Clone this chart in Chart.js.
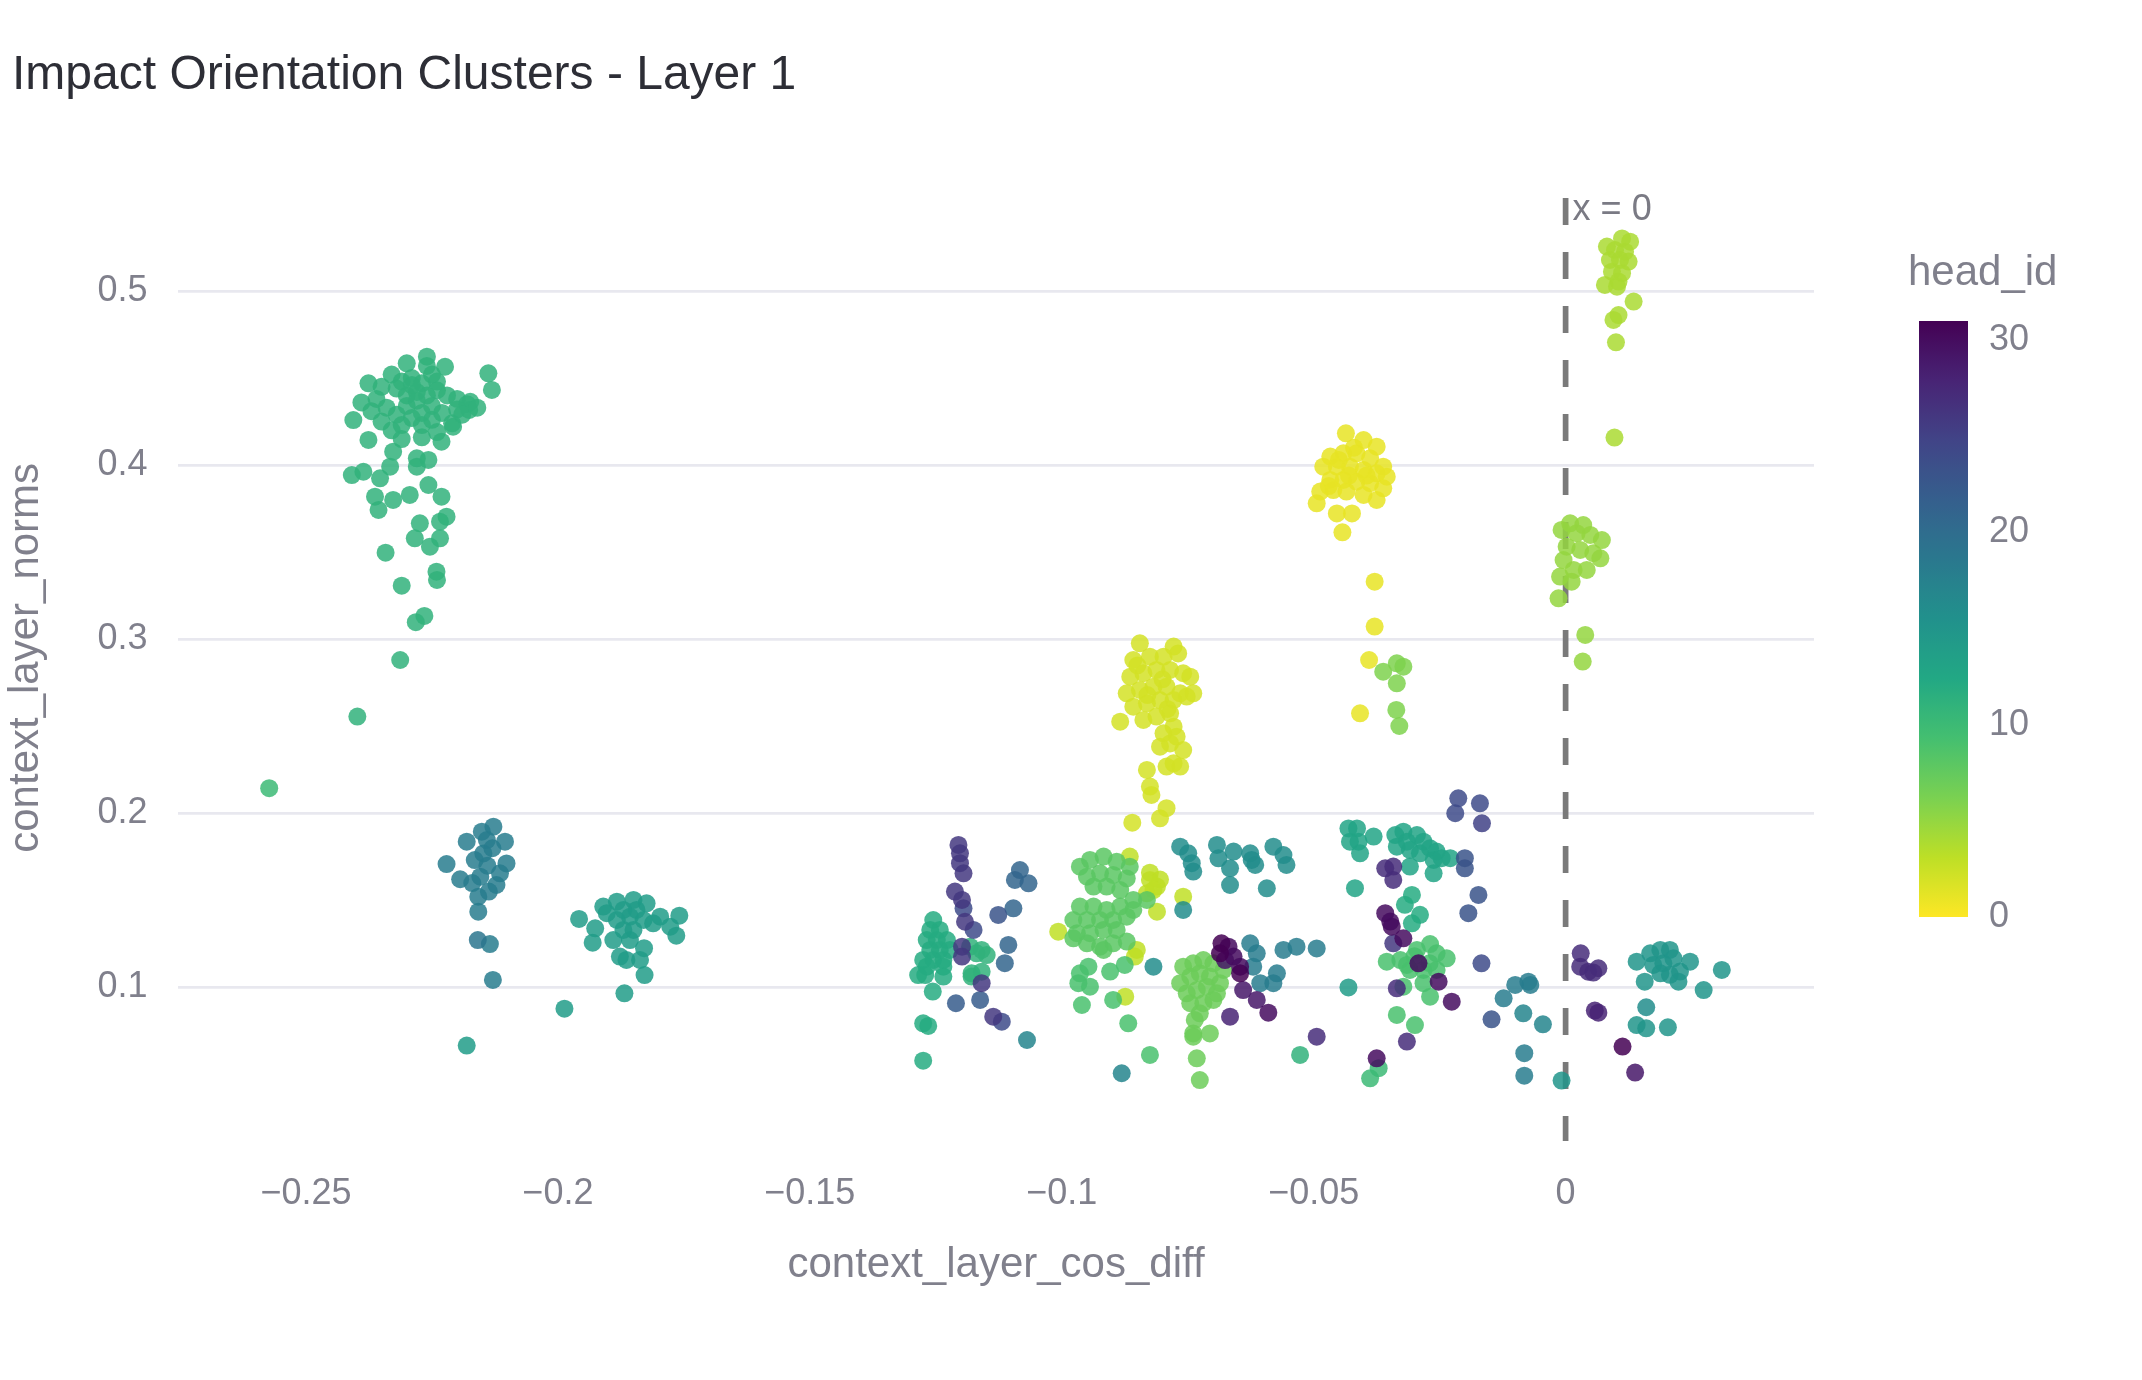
<!DOCTYPE html>
<html><head><meta charset="utf-8">
<script src="https://cdn.jsdelivr.net/npm/chart.js@4.4.1/dist/chart.umd.min.js"></script>
<style>html,body{margin:0;padding:0;background:#fff;}#wrap{width:2142px;height:1380px;}</style>
</head><body><div id="wrap"><canvas id="c" width="2142" height="1380"></canvas></div>
<script>
// ---------- DATA ----------
const chartTitle = 'Impact Orientation Clusters - Layer 1';
const xTitle = 'context_layer_cos_diff';
const yTitle = 'context_layer_norms';
const colorTitle = 'head_id';
const xTicks = [-0.25, -0.2, -0.15, -0.1, -0.05, 0];
const xTickLabels = ['\u22120.25', '\u22120.2', '\u22120.15', '\u22120.1', '\u22120.05', '0'];
const yTicks = [0.1, 0.2, 0.3, 0.4, 0.5];
const yTickLabels = ['0.1', '0.2', '0.3', '0.4', '0.5'];
const cbarTicks = [0, 10, 20, 30];
const headMin = 0, headMax = 31;
const refLineX = 0;
const refLineLabel = 'x = 0';

// points [context_layer_cos_diff, context_layer_norms] grouped by head_id
const head01 = [[-0.0436,0.4183],[-0.0401,0.4144],[-0.0375,0.4106],[-0.0467,0.4049],[-0.0441,0.4068],[-0.0415,0.4068],[-0.0388,0.4039],[-0.0362,0.3991],[-0.0481,0.3991],[-0.0454,0.3991],[-0.0428,0.3991],[-0.0401,0.3972],[-0.0375,0.3953],[-0.0355,0.3934],[-0.0467,0.3915],[-0.0441,0.3915],[-0.0415,0.3905],[-0.0388,0.3896],[-0.0362,0.3867],[-0.0487,0.3848],[-0.0461,0.3857],[-0.0435,0.3848],[-0.0401,0.3829],[-0.0375,0.3800],[-0.0494,0.3781],[-0.0454,0.3723],[-0.0424,0.3723],[-0.0443,0.3614],[-0.0379,0.3331],[-0.0379,0.3073],[-0.0390,0.2881],[-0.0408,0.2575],[-0.0420,0.4100],[-0.0450,0.4030],[-0.0395,0.3940],[-0.0430,0.3940],[-0.0470,0.3880]];
const head02 = [[-0.0845,0.2977],[-0.0778,0.2958],[-0.0858,0.2881],[-0.0825,0.2900],[-0.0798,0.2900],[-0.0769,0.2919],[-0.0864,0.2785],[-0.0838,0.2805],[-0.0812,0.2824],[-0.0785,0.2824],[-0.0759,0.2805],[-0.0745,0.2785],[-0.0739,0.2690],[-0.0871,0.2690],[-0.0845,0.2709],[-0.0818,0.2728],[-0.0792,0.2728],[-0.0765,0.2690],[-0.0858,0.2613],[-0.0831,0.2632],[-0.0805,0.2651],[-0.0778,0.2651],[-0.0752,0.2671],[-0.0838,0.2537],[-0.0812,0.2556],[-0.0785,0.2575],[-0.0884,0.2527],[-0.0798,0.2460],[-0.0778,0.2498],[-0.0772,0.2441],[-0.0805,0.2383],[-0.0785,0.2402],[-0.0759,0.2364],[-0.0778,0.2288],[-0.0765,0.2269],[-0.0792,0.2269],[-0.0831,0.2250],[-0.0825,0.2154],[-0.0822,0.2106],[-0.0792,0.2030],[-0.0805,0.1972],[-0.0860,0.1947],[-0.0850,0.2850],[-0.0800,0.2770],[-0.0830,0.2680],[-0.0790,0.2600]];
const head03 = [[-0.0865,0.1752],[-0.0825,0.1618],[-0.0811,0.1580],[-0.0831,0.1541],[-0.0811,0.1436],[-0.0851,0.1216],[-0.0855,0.1178],[-0.0874,0.0948],[-0.1007,0.1321],[-0.0759,0.1522],[-0.0825,0.1660],[-0.0805,0.1620],[-0.0818,0.1560]];
const head04 = [[0.0112,0.5302],[0.0128,0.5283],[0.0082,0.5255],[0.0098,0.5235],[0.0118,0.5226],[0.0088,0.5178],[0.0108,0.5178],[0.0125,0.5169],[0.0092,0.5111],[0.0112,0.5102],[0.0105,0.5054],[0.0078,0.5035],[0.0102,0.5025],[0.0135,0.4939],[0.0105,0.4862],[0.0095,0.4834],[0.0100,0.4705],[0.0097,0.4158]];
const head05 = [[0.0009,0.3666],[0.0035,0.3656],[-0.0008,0.3628],[0.0022,0.3609],[0.0049,0.3599],[0.0072,0.3570],[0.0002,0.3532],[0.0029,0.3513],[0.0055,0.3494],[0.0069,0.3465],[-0.0004,0.3455],[0.0016,0.3398],[0.0042,0.3398],[-0.0011,0.3360],[0.0012,0.3331],[-0.0014,0.3235],[0.0039,0.3025],[0.0034,0.2872]];
const head06 = [[-0.0362,0.2814],[-0.0335,0.2862],[-0.0322,0.2843],[-0.0335,0.2747],[-0.0336,0.2594],[-0.0330,0.2502]];
const head07 = [[-0.0759,0.1120],[-0.0739,0.1139],[-0.0719,0.1158],[-0.0699,0.1139],[-0.0679,0.1101],[-0.0765,0.1025],[-0.0745,0.1063],[-0.0726,0.1082],[-0.0706,0.1063],[-0.0686,0.1025],[-0.0752,0.0967],[-0.0732,0.0986],[-0.0712,0.1005],[-0.0692,0.0967],[-0.0745,0.0910],[-0.0719,0.0910],[-0.0699,0.0929],[-0.0726,0.0852],[-0.0736,0.0814],[-0.0739,0.0737],[-0.0706,0.0737],[-0.0739,0.0718],[-0.0732,0.0594],[-0.0726,0.0469]];
const head08 = [[-0.0964,0.1694],[-0.0944,0.1733],[-0.0917,0.1752],[-0.0891,0.1723],[-0.0865,0.1694],[-0.0950,0.1637],[-0.0924,0.1656],[-0.0898,0.1647],[-0.0871,0.1627],[-0.0937,0.1580],[-0.0911,0.1580],[-0.0884,0.1560],[-0.0858,0.1503],[-0.0831,0.1503],[-0.0964,0.1465],[-0.0937,0.1465],[-0.0911,0.1446],[-0.0884,0.1465],[-0.0858,0.1446],[-0.0977,0.1388],[-0.0950,0.1388],[-0.0924,0.1388],[-0.0898,0.1388],[-0.0871,0.1407],[-0.0970,0.1312],[-0.0944,0.1312],[-0.0917,0.1331],[-0.0891,0.1331],[-0.0871,0.1264],[-0.0977,0.1283],[-0.0950,0.1254],[-0.0924,0.1235],[-0.0898,0.1254],[-0.0917,0.1216]];
const head09 = [[-0.0964,0.1082],[-0.0947,0.1120],[-0.0967,0.1025],[-0.0944,0.1005],[-0.0960,0.0900],[-0.0904,0.1092],[-0.0875,0.1130],[-0.0898,0.0929],[-0.0868,0.0795],[-0.0825,0.0613],[-0.0269,0.1250],[-0.0295,0.1216],[-0.0256,0.1197],[-0.0236,0.1168],[-0.0355,0.1149],[-0.0328,0.1158],[-0.0309,0.1101],[-0.0282,0.1101],[-0.0256,0.1101],[-0.0322,0.1005],[-0.0282,0.1025],[-0.0269,0.0948],[-0.0335,0.0843],[-0.0299,0.0785],[-0.0300,0.1180],[-0.0270,0.1140],[-0.0315,0.1130]];
const head10 = [[-0.0388,0.0479],[-0.0371,0.0537],[-0.2573,0.2145]];
const head11 = [[-0.2260,0.4623],[-0.2300,0.4585],[-0.2224,0.4565],[-0.2138,0.4527],[-0.2131,0.4432],[-0.2376,0.4470],[-0.2406,0.4259],[-0.2174,0.4364],[-0.2176,0.4317],[-0.2208,0.4221],[-0.2231,0.4135],[-0.2376,0.4145],[-0.2327,0.4077],[-0.2280,0.4039],[-0.2257,0.4030],[-0.2280,0.3991],[-0.2409,0.3943],[-0.2386,0.3962],[-0.2353,0.3924],[-0.2333,0.3991],[-0.2257,0.3886],[-0.2363,0.3819],[-0.2356,0.3743],[-0.2327,0.3800],[-0.2294,0.3829],[-0.2231,0.3819],[-0.2274,0.3666],[-0.2234,0.3675],[-0.2221,0.3704],[-0.2284,0.3580],[-0.2234,0.3580],[-0.2254,0.3532],[-0.2342,0.3497],[-0.2241,0.3388],[-0.2240,0.3341],[-0.2310,0.3308],[-0.2265,0.3134],[-0.2282,0.3098],[-0.2313,0.2881],[-0.2398,0.2556],
[-0.2330,0.4520],[-0.2310,0.4480],[-0.2290,0.4500],[-0.2270,0.4470],[-0.2250,0.4520],[-0.2280,0.4420],[-0.2300,0.4400],[-0.2320,0.4440],[-0.2350,0.4450],[-0.2360,0.4380],[-0.2340,0.4330],[-0.2320,0.4290],[-0.2300,0.4340],[-0.2280,0.4370],[-0.2260,0.4400],[-0.2240,0.4430],[-0.2220,0.4400],[-0.2200,0.4380],[-0.2180,0.4350],[-0.2200,0.4320],[-0.2230,0.4300],[-0.2250,0.4260],[-0.2270,0.4230],[-0.2290,0.4270],[-0.2310,0.4230],[-0.2330,0.4200],[-0.2350,0.4250],[-0.2370,0.4310],[-0.2390,0.4360],[-0.2310,0.4150],[-0.2270,0.4160],[-0.2240,0.4190],[-0.2210,0.4240],[-0.2190,0.4290],[-0.2160,0.4330],[-0.2250,0.4340],[-0.2270,0.4300],[-0.2290,0.4460],[-0.2260,0.4570],[-0.2240,0.4480],
[-0.1182,0.1235],[-0.1169,0.1197],[-0.1149,0.1187],[-0.1159,0.1216],[-0.1179,0.1082],[-0.1159,0.1091],[-0.1179,0.1063],[-0.0527,0.0613]];
const head12 = [[-0.1255,0.1388],[-0.1261,0.1331],[-0.1242,0.1331],[-0.1268,0.1273],[-0.1248,0.1273],[-0.1228,0.1273],[-0.1261,0.1216],[-0.1242,0.1216],[-0.1222,0.1216],[-0.1275,0.1159],[-0.1255,0.1159],[-0.1235,0.1159],[-0.1268,0.1120],[-0.1235,0.1120],[-0.1285,0.1072],[-0.1271,0.1072],[-0.1256,0.0977],[-0.1235,0.1063],[-0.1275,0.0795],[-0.1265,0.0780],[-0.1275,0.0580],[-0.0305,0.1532],[-0.0319,0.1475],[-0.0289,0.1418],[-0.0305,0.1369]];
const head13 = [[-0.0431,0.1914],[-0.0414,0.1914],[-0.0381,0.1867],[-0.0428,0.1838],[-0.0411,0.1838],[-0.0408,0.1771],[-0.0418,0.1571],[-0.0338,0.1876],[-0.0322,0.1895],[-0.0295,0.1876],[-0.0335,0.1809],[-0.0315,0.1838],[-0.0309,0.1790],[-0.0282,0.1838],[-0.0289,0.1771],[-0.0269,0.1800],[-0.0256,0.1781],[-0.0262,0.1733],[-0.0246,0.1743],[-0.0229,0.1743],[-0.0262,0.1656],[-0.0309,0.1695]];
const head14 = [[-0.1926,0.1340],[-0.1931,0.1258],[-0.1910,0.1465],[-0.1883,0.1493],[-0.1850,0.1503],[-0.1824,0.1484],[-0.1797,0.1407],[-0.1759,0.1413],[-0.1765,0.1298],[-0.1777,0.1350],[-0.1883,0.1388],[-0.1857,0.1407],[-0.1830,0.1388],[-0.1890,0.1273],[-0.1857,0.1273],[-0.1864,0.1159],[-0.1877,0.1178],[-0.1837,0.1159],[-0.1829,0.1226],[-0.1828,0.1072],[-0.1868,0.0967],[-0.1811,0.1369],[-0.1903,0.1427],[-0.1844,0.1446],[-0.1870,0.1446],[-0.1850,0.1331],[-0.1870,0.1331],[-0.1958,0.1394],[-0.1987,0.0879],[-0.2181,0.0667],[-0.0431,0.1001]];
const head15 = [[0.0141,0.1149],[0.0168,0.1197],[0.0188,0.1216],[0.0207,0.1216],[0.0174,0.1130],[0.0194,0.1139],[0.0214,0.1168],[0.0188,0.1082],[0.0207,0.1073],[0.0227,0.1092],[0.0247,0.1149],[0.0224,0.1034],[0.0157,0.1034],[0.0310,0.1101],[0.0274,0.0986],[0.0141,0.0785],[0.0160,0.0766],[0.0203,0.0772],[-0.0008,0.0466]];
const head16 = [[-0.0765,0.1809],[-0.0749,0.1771],[-0.0742,0.1714],[-0.0739,0.1666],[-0.0692,0.1819],[-0.0659,0.1781],[-0.0666,0.1685],[-0.0666,0.1589],[-0.0626,0.1771],[-0.0616,0.1704],[-0.0593,0.1570],[-0.0580,0.1809],[-0.0560,0.1761],[-0.0554,0.1704],[-0.0759,0.1446],[-0.0818,0.1120],[-0.0689,0.1742],[-0.0623,0.1733],[0.0160,0.0887]];
const head17 = [[-0.1069,0.0699],[-0.0881,0.0508],[-0.0084,0.0852],[-0.0045,0.0789]];
const head18 = [[-0.2128,0.1924],[-0.2151,0.1895],[-0.2181,0.1838],[-0.2105,0.1838],[-0.2141,0.1847],[-0.2221,0.1709],[-0.2102,0.1713],[-0.2165,0.1732],[-0.2148,0.1770],[-0.2115,0.1656],[-0.2194,0.1622],[-0.2154,0.1637],[-0.2122,0.1589],[-0.2158,0.1522],[-0.2158,0.1436],[-0.2137,0.1551],[-0.2135,0.1250],[-0.2129,0.1044],[-0.2140,0.1700],[-0.2170,0.1600],[-0.2130,0.1800],[-0.0626,0.1254],[-0.0613,0.1197],[-0.0620,0.1120],[-0.0606,0.1025],[-0.0580,0.1025],[-0.0573,0.1082],[-0.0560,0.1216],[-0.0534,0.1235],[-0.0494,0.1225],[-0.0123,0.0938],[-0.0100,0.1015],[-0.0074,0.1034],[-0.0070,0.1015],[-0.0082,0.0623],[-0.0082,0.0494]];
const head19 = [[-0.2159,0.1273]];
const head21 = [[-0.1083,0.1675],[-0.1093,0.1618],[-0.1066,0.1599],[-0.1096,0.1455],[-0.1106,0.1245],[-0.1113,0.1140]];
const head22 = [[-0.1162,0.0929],[-0.1210,0.0910]];
const head23 = [[-0.1126,0.1417],[-0.0200,0.1743],[-0.0200,0.1685],[-0.0173,0.1532],[-0.0193,0.1427],[-0.0147,0.0818]];
const head24 = [[-0.1195,0.1455],[-0.1175,0.1331],[-0.1119,0.0804],[-0.0213,0.2087],[-0.0170,0.2058],[-0.0219,0.2001],[-0.0167,0.1139]];
const head25 = [[-0.0166,0.1943]];
const head26 = [[-0.1205,0.1819],[-0.1202,0.1771],[-0.1202,0.1714],[-0.1195,0.1656],[-0.1212,0.1551],[-0.1198,0.1503],[-0.1192,0.1378],[-0.1198,0.1235],[-0.1198,0.1178],[-0.1159,0.1025],[-0.1136,0.0833],[-0.0342,0.1254]];
const head27 = [[-0.0358,0.1685],[-0.0342,0.1695],[-0.0342,0.1618],[-0.0335,0.0996],[-0.0315,0.0690],[0.0030,0.1197],[0.0029,0.1120],[0.0045,0.1091],[0.0065,0.1111],[0.0055,0.1086],[-0.0494,0.0718]];
const head28 = [[-0.0666,0.0833],[0.0058,0.0868],[0.0065,0.0856]];
const head29 = [[-0.0676,0.1158],[-0.0640,0.0986],[-0.0613,0.0929],[0.0138,0.0512]];
const head30 = [[-0.0669,0.1235],[-0.0659,0.1178],[-0.0646,0.1120],[-0.0590,0.0856],[-0.0358,0.1427],[-0.0348,0.1379],[-0.0345,0.1350],[-0.0322,0.1283],[-0.0292,0.1139],[-0.0252,0.1034],[-0.0226,0.0919],[-0.0375,0.0594]];
const head31 = [[-0.0683,0.1254],[-0.0686,0.1197],[-0.0646,0.1082],[0.0113,0.0661]];

const headGroups = [[1,head01],[2,head02],[3,head03],[4,head04],[5,head05],[6,head06],[7,head07],[8,head08],[9,head09],[10,head10],[11,head11],[12,head12],[13,head13],[14,head14],[15,head15],[16,head16],[17,head17],[18,head18],[19,head19],[21,head21],[22,head22],[23,head23],[24,head24],[25,head25],[26,head26],[27,head27],[28,head28],[29,head29],[30,head30],[31,head31]];

// ---------- STYLE ----------
const FONT = "'Liberation Sans', Arial, Helvetica, sans-serif";
const TXT_GRAY = '#80808c';
const TITLE_COL = '#2d2e36';
const VIR = ['#440154','#482475','#414487','#355f8d','#2a788e','#21918c','#22a884','#44bf70','#7ad151','#bddf26','#fde725'];
function hexRgb(h){return [parseInt(h.slice(1,3),16),parseInt(h.slice(3,5),16),parseInt(h.slice(5,7),16)];}
function viridis(t){t=Math.min(1,Math.max(0,t));const p=t*10;const i=Math.min(9,Math.floor(p));const f=p-i;const a=hexRgb(VIR[i]),b=hexRgb(VIR[i+1]);return a.map((v,k)=>Math.round(v+(b[k]-v)*f));}
function headColor(h,alpha){const c=viridis(1-(h-headMin)/(headMax-headMin));return 'rgba('+c[0]+','+c[1]+','+c[2]+','+alpha+')';}

const points=[], colors=[];
headGroups.forEach(([h,arr])=>arr.forEach(([x,y])=>{points.push({x:x,y:y,head:h});colors.push(headColor(h,0.85));}));

const refLinePlugin = {
  id:'refLine',
  beforeDatasetsDraw(chart){
    const {ctx, chartArea, scales} = chart;
    const px = scales.x.getPixelForValue(refLineX);
    ctx.save();
    ctx.strokeStyle='#7a7a7a'; ctx.lineWidth=5.7; ctx.setLineDash([27,27]);
    ctx.beginPath(); ctx.moveTo(px, chartArea.top); ctx.lineTo(px, chartArea.bottom); ctx.stroke();
    ctx.restore();
  },
  afterDraw(chart){
    const {ctx, chartArea, scales} = chart;
    const px = scales.x.getPixelForValue(refLineX);
    ctx.save();
    ctx.font = '36px '+FONT; ctx.fillStyle='#7a7a84'; ctx.textAlign='left'; ctx.textBaseline='middle';
    ctx.fillText(refLineLabel, px+7, chartArea.top+12);
    ctx.restore();
  }
};

const colorbarPlugin = {
  id:'colorbar',
  afterDraw(chart){
    const ctx = chart.ctx;
    const x0=1919, w=49, yTop=321, yBot=917;
    ctx.save();
    const g = ctx.createLinearGradient(0,yBot,0,yTop);
    for(let i=0;i<=20;i++){const c=viridis(1-i/20);g.addColorStop(i/20,'rgb('+c[0]+','+c[1]+','+c[2]+')');}
    ctx.fillStyle=g; ctx.fillRect(x0,yTop,w,yBot-yTop);
    ctx.fillStyle=TXT_GRAY; ctx.font='36px '+FONT; ctx.textAlign='left'; ctx.textBaseline='middle';
    cbarTicks.forEach(v=>{const y=yBot-(v-headMin)/(headMax-headMin)*(yBot-yTop);ctx.fillText(String(v),1989,y);});
    ctx.font='42px '+FONT; ctx.fillText(colorTitle,1908,273);
    ctx.restore();
  }
};

new Chart(document.getElementById('c'), {
  type:'scatter',
  data:{datasets:[{label:'heads', data:points, pointRadius:9, pointHoverRadius:9, pointBorderWidth:0, pointBackgroundColor:colors, pointBorderColor:colors}]},
  options:{
    responsive:false, devicePixelRatio:1, animation:false,
    layout:{padding:{left:12,right:328,top:0,bottom:0}},
    plugins:{
      legend:{display:false}, tooltip:{enabled:false},
      title:{display:true, text:chartTitle, align:'start', color:TITLE_COL, font:{family:FONT,size:48,weight:'normal',lineHeight:1.2}, padding:{top:47,bottom:93.4}}
    },
    scales:{
      x:{type:'linear', min:-0.2754, max:0.0493,
        afterBuildTicks:(s)=>{s.ticks=xTicks.map(v=>({value:v}));},
        afterFit:(s)=>{s.height=239;},
        grid:{display:false, drawTicks:false}, border:{display:false},
        ticks:{autoSkip:false, maxRotation:0, padding:31.4, color:TXT_GRAY, font:{family:FONT,size:36}, callback:(v,i)=>xTickLabels[i]},
        title:{display:true, text:xTitle, color:TXT_GRAY, font:{family:FONT,size:42,lineHeight:1.2}, padding:{top:0,bottom:89.8}}
      },
      y:{type:'linear', min:0.0119, max:0.5534,
        afterBuildTicks:(s)=>{s.ticks=yTicks.map(v=>({value:v}));},
        afterFit:(s)=>{s.width=166;},
        grid:{color:'#e8e8ef', lineWidth:2.8, drawTicks:false}, border:{display:false},
        ticks:{padding:30.5, color:TXT_GRAY, font:{family:FONT,size:36}, callback:(v,i)=>yTickLabels[i]},
        title:{display:true, text:'\u00a0\u00a0'+yTitle, color:TXT_GRAY, font:{family:FONT,size:42,lineHeight:0.7}, padding:0}
      }
    }
  },
  plugins:[refLinePlugin, colorbarPlugin]
});
</script></body></html>
